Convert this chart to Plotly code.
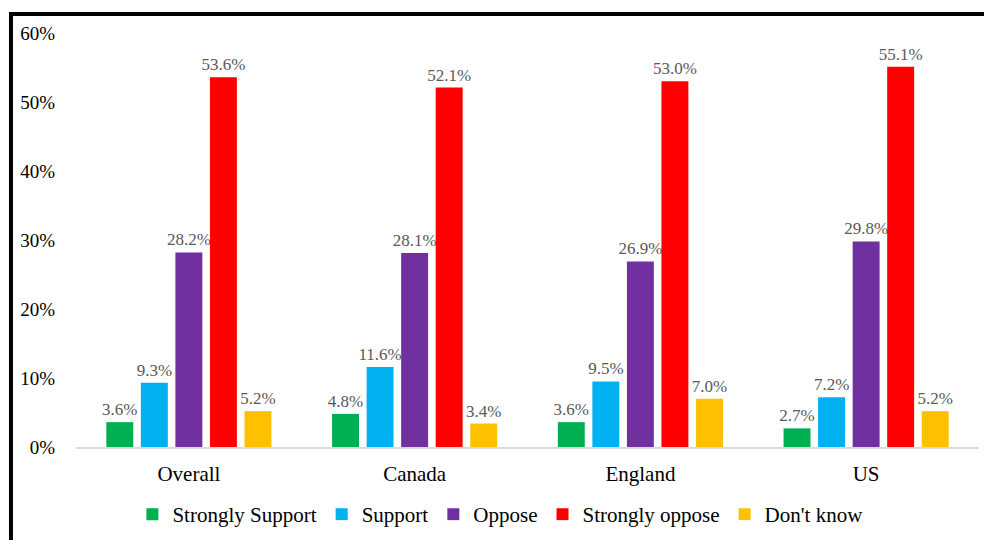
import plotly.graph_objects as go

categories = ["Overall", "Canada", "England", "US"]
series_names = ["Strongly Support", "Support", "Oppose", "Strongly oppose", "Don't know"]
strongly_support = [3.6, 4.8, 3.6, 2.7]
support = [9.3, 11.6, 9.5, 7.2]
oppose = [28.2, 28.1, 26.9, 29.8]
strongly_oppose = [53.6, 52.1, 53.0, 55.1]
dont_know = [5.2, 3.4, 7.0, 5.2]
colors = ["#00B050", "#00B0F0", "#7030A0", "#FF0000", "#FFC000"]
y_ticks = [0, 10, 20, 30, 40, 50, 60]
y_tick_labels = ["0%", "10%", "20%", "30%", "40%", "50%", "60%"]

FONT = "Liberation Serif"

fig = go.Figure()
for name, vals, col in zip(series_names,
                           [strongly_support, support, oppose, strongly_oppose, dont_know],
                           colors):
    fig.add_trace(go.Bar(
        x=categories, y=vals, name=name, marker_color=col, marker_line_width=0,
        text=[f"{v:.1f}%" for v in vals], textposition="outside",
        constraintext="none",
        textfont=dict(family=FONT, size=17, color="#595959"),
        cliponaxis=False,
    ))

fig.update_layout(
    width=984, height=540,
    margin=dict(l=76, r=5, t=33, b=91),
    paper_bgcolor="white", plot_bgcolor="white",
    barmode="group", bargap=0.235, bargroupgap=0.22,
    font=dict(family=FONT, size=18, color="#000000"),
    showlegend=True,
    legend=dict(orientation="h", x=0.47, xanchor="center", y=-0.163, yanchor="middle",
                font=dict(family=FONT, size=21, color="#000000"),
                itemwidth=30, tracegroupgap=0, traceorder="normal"),
    xaxis=dict(showline=True, linecolor="#D9D9D9", linewidth=1.5, showgrid=False,
               ticks="", tickfont=dict(family=FONT, size=21), ticklabelstandoff=7),
    yaxis=dict(range=[0, 60], tickvals=y_ticks, ticktext=y_tick_labels, showgrid=False,
               zeroline=False, showline=False, ticks="",
               tickfont=dict(family=FONT, size=19), ticklabelstandoff=20),
    shapes=[
        dict(type="line", xref="paper", yref="paper", x0=-0.0720, x1=-0.0720, y0=-0.3, y1=1.0457,
             line=dict(color="black", width=4)),
        dict(type="line", xref="paper", yref="paper", x0=-0.0742, x1=1.1, y0=1.0457, y1=1.0457,
             line=dict(color="black", width=4)),
    ],
)

fig.write_html("out.html", config={"displayModeBar": False},
               post_script="document.body.style.margin='0';")
